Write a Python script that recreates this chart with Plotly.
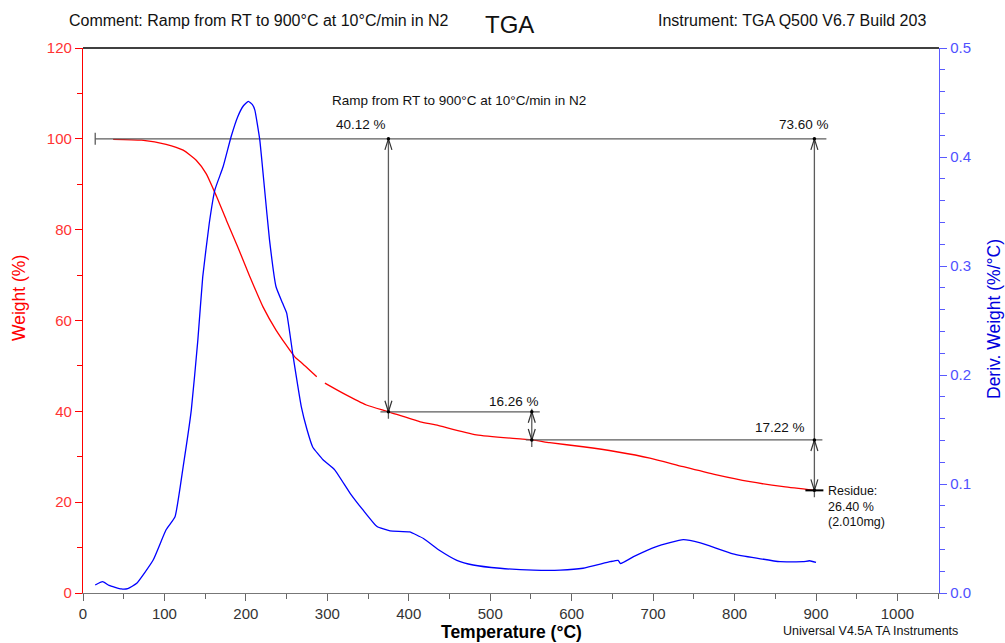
import plotly.graph_objects as go

# ---------------- data ----------------
weight_T = [37, 72, 102, 123, 139, 151, 164, 176, 190, 205, 221, 237, 260, 267, 287, None,
            297, 319, 348, 375, 414, 433, 483, 551, 573, 614, 655, 696, 737, 778, 819, 860, 898]
weight_pct = [99.9, 99.7, 98.8, 97.5, 95.3, 92.4, 87.3, 82.1, 76.2, 69.6, 63.0, 57.9, 52.0, 50.9, 47.6, None,
              46.2, 44.0, 41.4, 39.9, 37.7, 37.0, 34.8, 33.7, 33.1, 32.2, 31.1, 29.7, 27.8, 26.0, 24.5, 23.4, 22.6]

deriv_T = [15, 24, 32, 47, 55, 66, 86, 102, 113, 123, 133, 141, 147, 155, 162, 172, 182, 190, 197, 203,
           208, 211, 217, 223, 229, 237, 245, 250, 258, 268, 275, 282, 295, 309, 328, 344, 361, 377, 401,
           418, 438, 459, 479, 512, 553, 586, 614, 647, 657, 660, 676, 704, 737, 758, 798, 827, 856, 884,
           892, 900]
deriv_val = [0.0073, 0.0104, 0.007, 0.0037, 0.004, 0.0089, 0.030, 0.058, 0.070, 0.116, 0.168, 0.232, 0.290,
             0.339, 0.370, 0.391, 0.419, 0.437, 0.447, 0.451, 0.448, 0.443, 0.416, 0.370, 0.324, 0.281, 0.266,
             0.257, 0.217, 0.171, 0.150, 0.134, 0.122, 0.113, 0.0915, 0.076, 0.061, 0.057, 0.056, 0.050, 0.039,
             0.030, 0.0257, 0.0227, 0.021, 0.021, 0.0227, 0.0287, 0.030, 0.027, 0.0333, 0.0425, 0.049, 0.046,
             0.036, 0.032, 0.0287, 0.0287, 0.0296, 0.028]

# step-analysis markers
start_T = 15
step_T = [375, 551, 898]              # temperatures of the step markers
step_W = [100, 39.9, 33.7, 22.6]      # weight levels (start, after step1, after step2, residue)
step_labels = ["40.12 %", "16.26 %", "17.22 %"]
total_label = "73.60 %"
residue_lines = ["Residue:", "26.40 %", "(2.010mg)"]

x_ticks = [0, 100, 200, 300, 400, 500, 600, 700, 800, 900, 1000]
y_ticks = [0, 20, 40, 60, 80, 100, 120]
y2_ticks = [0.0, 0.1, 0.2, 0.3, 0.4, 0.5]

# ---------------- geometry ----------------
W, H = 1005, 643
ML, MR, MT, MB = 83, 66, 48, 50
PW, PH = W - ML - MR, H - MT - MB
X_MAX, Y_MAX = 1051, 120
PX_T = X_MAX / PW      # degC per pixel
PX_W = Y_MAX / PH      # weight % per pixel


def px(x):
    return (x - ML) / PW


def py(y):
    return (H - MB - y) / PH


FONT = "Arial, Liberation Sans, sans-serif"
LINE_C = "#5c5c5c"

fig = go.Figure()

fig.add_trace(go.Scatter(x=weight_T, y=weight_pct, mode="lines",
                         line=dict(color="#ff0000", width=1.3, shape="spline", smoothing=0.6),
                         connectgaps=False, hoverinfo="skip", name="Weight"))
fig.add_trace(go.Scatter(x=deriv_T, y=deriv_val, mode="lines", yaxis="y2",
                         line=dict(color="#0000ff", width=1.3, shape="spline", smoothing=0.4),
                         hoverinfo="skip", name="Deriv. Weight"))

# ---- step-analysis lines (built from the step values) ----
T1, T2, T3 = step_T
W0, W1, W2, W3 = step_W
lx, ly = [], []


def seg(xa, ya, xb, yb):
    lx.extend([xa, xb, None])
    ly.extend([ya, yb, None])


seg(start_T, W0, T3 + 12 * PX_T, W0)                       # top level line
seg(start_T, W0 - 6 * PX_W, start_T, W0 + 6 * PX_W)         # left end cap
seg(T1, W0, T1, W1 - 7 * PX_W)                              # step 1 vertical
seg(T1 - 8 * PX_T, W1, T2 + 8 * PX_T, W1)                   # level after step 1
seg(T2, W1 + 3 * PX_W, T2, W2 - 7 * PX_W)                   # step 2 vertical
seg(T2 - 6 * PX_T, W2, T3 + 8 * PX_T, W2)                   # level after step 2
seg(T3, W0, T3, W3 - 7 * PX_W)                              # total / step 3 vertical
fig.add_trace(go.Scatter(x=lx, y=ly, mode="lines", line=dict(color=LINE_C, width=1.3),
                         hoverinfo="skip"))
# residue cross bar
fig.add_trace(go.Scatter(x=[T3 - 9 * PX_T, T3 + 9 * PX_T], y=[W3, W3], mode="lines",
                         line=dict(color="#000000", width=2), hoverinfo="skip"))

# arrow heads (open V shapes)
ax_, ay_ = [], []


def head(t, w, up):
    s = -1 if up else 1
    ax_.extend([t - 3.5 * PX_T, t, t + 3.5 * PX_T, None])
    ay_.extend([w + s * 11 * PX_W, w, w + s * 11 * PX_W, None])


head(T1, W0, True)
head(T1, W1, False)
head(T2, W1, True)
head(T2, W2, False)
head(T3, W0, True)
head(T3, W2, True)
head(T3, W3, False)
fig.add_trace(go.Scatter(x=ax_, y=ay_, mode="lines", line=dict(color="#333333", width=1.2),
                         hoverinfo="skip"))
fig.add_trace(go.Scatter(x=[T1, T1, T2, T2, T3, T3, T3], y=[W0, W1, W1, W2, W0, W2, W3], mode="markers",
                         marker=dict(color="#000000", size=3.5), hoverinfo="skip"))

# ---------------- text ----------------
ann = []


def txt(text, x, y, size=13, anchor="left", color="#111111", **kw):
    ann.append(dict(text=text, x=px(x), y=py(y), xref="paper", yref="paper", showarrow=False,
                    xanchor=anchor, yanchor="middle", font=dict(family=FONT, size=size, color=color), **kw))


txt("Comment: Ramp from RT to 900°C at 10°C/min in N2", 67, 20, 16)
txt("TGA", 509, 25, 24, "center")
txt("Instrument: TGA Q500 V6.7 Build 203", 656, 20, 16)
txt("Universal V4.5A TA Instruments", 781, 631, 12.5)
txt("Ramp from RT to 900°C at 10°C/min in N2", 330, 100, 13.5)
txt(step_labels[0], 334, 124, 13.5)
txt(total_label, 777, 124, 13.5)
txt(step_labels[1], 487, 401, 13.5)
txt(step_labels[2], 753, 427, 13.5)
for i, line in enumerate(residue_lines):
    txt(line, 826, 491 + i * 15.5, 12.5)

txt("<b>Temperature (°C)</b>", 512, 632, 17.5, "center", "#000000")
txt("Weight (%)", 19, 298, 17.5, "center", "#ff0000", textangle=-90)
txt("Deriv. Weight (%/°C)", 994, 319, 17.5, "center", "#0000dd", textangle=-90)

fig.update_layout(
    width=W, height=H, margin=dict(l=ML, r=MR, t=MT, b=MB, pad=0),
    paper_bgcolor="white", plot_bgcolor="white", showlegend=False,
    annotations=ann,
    shapes=[dict(type="line", xref="paper", yref="paper", x0=0, x1=1, y0=1, y1=1,
                 line=dict(color="#000000", width=1.3))],
    xaxis=dict(range=[0, X_MAX], tickvals=x_ticks, ticks="outside", ticklen=7, tickwidth=1,
               tickcolor="#666666", showline=True, linecolor="#777777", linewidth=1.3,
               showgrid=False, zeroline=False,
               tickfont=dict(family=FONT, size=15, color="#333333"),
               minor=dict(dtick=50, ticks="outside", ticklen=5, tickcolor="#666666", showgrid=False)),
    yaxis=dict(range=[0, Y_MAX], tickvals=y_ticks, ticks="outside", ticklen=7, tickwidth=1,
               tickcolor="#ff0000", showline=True, linecolor="#ff0000", linewidth=1.3,
               showgrid=False, zeroline=False,
               tickfont=dict(family=FONT, size=15, color="#ff3333"),
               minor=dict(dtick=10, ticks="outside", ticklen=5, tickcolor="#ff0000", showgrid=False)),
    yaxis2=dict(range=[0, 0.5], tickvals=y2_ticks, tickformat=".1f", overlaying="y", side="right",
                ticks="outside", ticklen=7, tickwidth=1, tickcolor="#5a5aff", showline=True,
                linecolor="#5a5aff", linewidth=1.3, showgrid=False, zeroline=False,
                tickfont=dict(family=FONT, size=15, color="#5050ff"),
                minor=dict(dtick=0.02, ticks="outside", ticklen=5, tickcolor="#5a5aff", showgrid=False)),
)

fig.write_html("out.html", config={"displayModeBar": False},
               post_script="document.body.style.margin='0';document.body.style.overflow='hidden';")
